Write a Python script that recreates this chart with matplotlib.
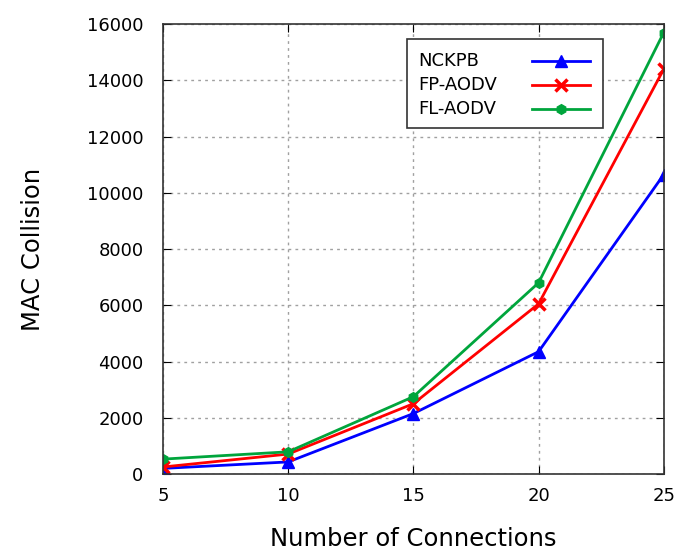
import matplotlib.pyplot as plt
from matplotlib.lines import Line2D
from matplotlib.patches import Rectangle

# MAC collisions vs number of connections
connexions = [5, 10, 15, 20, 25]
nckpb = [200, 430, 2150, 4350, 10650]
fp_aodv = [250, 710, 2500, 6050, 14400]
fl_aodv = [530, 790, 2750, 6800, 15700]

series = [
    ("NCKPB", nckpb, "#0000ff", dict(marker="^", ms=9)),
    ("FP-AODV", fp_aodv, "#ff0000", dict(marker="x", ms=8, mew=2.5)),
    ("FL-AODV", fl_aodv, "#00a53c", dict(marker="h", ms=7)),
]

fig = plt.figure(figsize=(6.78, 5.51), dpi=100)
ax = fig.add_axes([0.2404, 0.1397, 0.7386, 0.8166])

for nom, vals, coul, style in series:
    ax.plot(connexions, vals, color=coul, lw=2, label=nom, **style)

ax.set_xlim(5, 25)
ax.set_ylim(0, 16000)
ax.set_xticks(connexions)
ax.set_yticks(range(0, 16001, 2000))
ax.tick_params(direction="in", top=True, right=True, labelsize=13, length=6)
ax.tick_params(axis="y", pad=14)
ax.tick_params(axis="x", pad=9)
ax.grid(True, linestyle=(0, (2, 3)), color="#a0a0a0", lw=1)
for s in ax.spines.values():
    s.set_color("#333333")
    s.set_linewidth(1.2)

ax.set_xlabel("Number of Connections", fontsize=17.5, labelpad=16)
ax.set_ylabel("MAC Collision", fontsize=17.5, labelpad=30)

# légende dessinée à la main : texte à gauche, tracé à droite (style gnuplot)
W, H = 678, 551
x0, y0 = ax.get_position().x0 * W, (1 - ax.get_position().y1) * H
aw, ah = ax.get_position().width * W, ax.get_position().height * H

def px(x, y):
    return ((x - x0) / aw, 1 - (y - y0) / ah)

bx, by = px(407, 128)
bx2, by2 = px(603, 39)
ax.add_patch(Rectangle((bx, by), bx2 - bx, by2 - by, transform=ax.transAxes,
                       fill=True, facecolor="white", edgecolor="#333333",
                       lw=1.2, zorder=5))
for i, (nom, vals, coul, style) in enumerate(series):
    yy = 61 + i * 24
    tx, ty = px(418, yy)
    ax.text(tx, ty, nom, transform=ax.transAxes, fontsize=13,
            va="center", ha="left", zorder=6)
    lx1, ly = px(532, yy)
    lx2, _ = px(590, yy)
    ax.add_line(Line2D([lx1, lx2], [ly, ly], color=coul, lw=2,
                       transform=ax.transAxes, zorder=6))
    mx, _ = px(561, yy)
    ax.add_line(Line2D([mx], [ly], color=coul, transform=ax.transAxes,
                       zorder=6, **style))

fig.savefig("out.png", dpi=100)
